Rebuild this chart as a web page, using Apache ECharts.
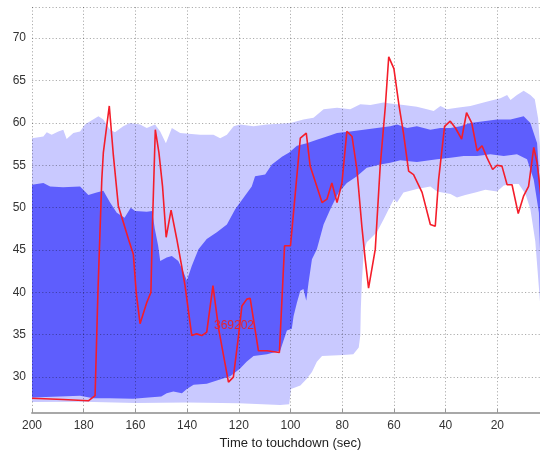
<!DOCTYPE html>
<html>
<head>
<meta charset="utf-8">
<script src="https://cdn.jsdelivr.net/npm/echarts@6/dist/echarts.min.js"></script>
<style>
  html, body { margin: 0; padding: 0; background: #ffffff; }
  #chart { width: 540px; height: 450px; }
</style>
</head>
<body>
<div id="chart"></div>
<script>
// Outer (light) envelope, upper edge: [time to touchdown, value]
const outerUpper = [
  [200, 58.2], [195.6, 58.4], [194.3, 58.9], [192.4, 58.6], [189.8, 59.0], [187.9, 59.2],
  [186.6, 58.1], [184.0, 58.8], [181.4, 59.0], [179.5, 59.8], [177.5, 60.2], [174.3, 60.8],
  [172.4, 60.4], [169.8, 59.2], [167.9, 58.9], [164.7, 59.6], [162.1, 60.0], [158.2, 59.8],
  [155.6, 59.4], [152.4, 59.8], [150.4, 59.0], [148.2, 57.6], [145.9, 59.4], [142.7, 58.8],
  [135.0, 58.6], [129.8, 58.6], [127.2, 58.2], [124.6, 58.6], [122.0, 59.6], [119.5, 59.8],
  [114.3, 59.6], [109.1, 59.8], [104.0, 59.9], [100.0, 60.0], [95.0, 60.4], [91.1, 60.6],
  [87.2, 61.6], [82.0, 61.8], [76.9, 61.6], [73.0, 62.2], [69.1, 62.1], [64.0, 62.4],
  [61.4, 62.3], [56.3, 62.1], [51.1, 61.9], [47.2, 61.6], [44.6, 61.4], [42.0, 62.0],
  [39.5, 61.6], [35.6, 61.8], [30.4, 62.0], [25.3, 62.4], [22.7, 62.6], [18.8, 62.9],
  [16.2, 63.3], [14.9, 62.7], [12.4, 63.3], [9.8, 63.8], [7.2, 63.3], [5.5, 62.8],
  [4.2, 60.5], [3.0, 55.0]
];

// Outer (light) envelope, lower edge
const outerLower = [
  [200, 27.05], [180, 27.1], [160, 26.95], [140, 27.0], [120, 26.9], [104, 26.7],
  [100.5, 26.8], [99.8, 28.6], [96.2, 29.0], [93.7, 29.8], [91.7, 30.6], [89.8, 31.8],
  [87.8, 32.5], [79.5, 32.6], [75.7, 32.7], [73.6, 33.5], [73.0, 34.9], [72.8, 38.0],
  [72.4, 41.2], [71.7, 44.7], [70.5, 45.9], [66.6, 47.1], [64.0, 48.6], [61.4, 50.2],
  [60.0, 51.0], [58.8, 50.6], [56.3, 51.8], [51.1, 52.2], [45.9, 52.5], [43.3, 51.9],
  [38.1, 51.6], [35.6, 51.2], [32.4, 51.5], [28.5, 51.8], [24.6, 52.1], [20.1, 51.9],
  [17.5, 52.6], [14.3, 52.8], [11.7, 52.8], [9.1, 51.6], [7.2, 49.8], [5.3, 46.0],
  [3.0, 37.0]
];

// Inner (dark) envelope, upper edge
const innerUpper = [
  [200, 52.7], [195.6, 52.9], [193.0, 52.5], [188.0, 52.4], [181.4, 52.5], [178.2, 51.5],
  [175.0, 51.8], [172.4, 52.0], [169.8, 50.6], [167.2, 49.4], [164.2, 48.8], [161.8, 50.0],
  [160.1, 49.6], [155.6, 49.5], [153.5, 49.6], [152.5, 47.5], [151.2, 45.5], [150.4, 43.7],
  [147.9, 44.1], [145.9, 44.3], [143.4, 43.7], [141.4, 42.4], [140.1, 41.4], [138.2, 43.1],
  [135.6, 45.1], [132.4, 46.3], [128.5, 47.1], [124.6, 48.0], [121.4, 49.8], [118.1, 51.2],
  [115.0, 52.5], [113.7, 53.7], [109.8, 53.9], [107.2, 55.1], [103.3, 56.0], [100.5, 56.5],
  [97.5, 57.3], [93.7, 57.6], [89.8, 58.0], [85.9, 58.4], [82.0, 58.8], [76.9, 59.0],
  [71.7, 59.2], [66.6, 59.4], [61.4, 59.6], [58.8, 59.8], [54.9, 59.4], [51.1, 59.6],
  [45.9, 59.2], [42.0, 59.4], [38.1, 59.4], [34.3, 59.6], [30.4, 60.0], [25.3, 60.2],
  [20.1, 60.4], [14.9, 60.4], [9.8, 60.8], [7.2, 60.0], [4.6, 57.6], [3.0, 50.0]
];

// Inner (dark) envelope, lower edge
const innerLower = [
  [200, 27.6], [181.4, 27.8], [176.3, 27.5], [170.0, 27.5], [160.8, 27.45], [155.0, 27.6],
  [150.0, 27.7], [147.9, 28.1], [145.3, 28.3], [142.0, 28.1], [140.1, 28.6], [137.5, 29.1],
  [132.4, 29.2], [128.5, 29.6], [123.3, 30.1], [119.5, 31.0], [117.0, 31.8], [114.3, 32.5],
  [109.1, 32.7], [104.0, 33.1], [101.4, 35.5], [99.5, 35.7], [98.8, 37.2], [97.5, 38.8],
  [96.2, 40.2], [95.0, 40.4], [93.9, 39.0], [93.0, 41.2], [91.7, 43.9], [89.8, 45.1],
  [87.2, 48.0], [84.6, 49.8], [81.4, 51.8], [78.2, 52.9], [74.3, 53.7], [70.5, 54.7],
  [65.3, 55.1], [61.4, 55.3], [57.5, 55.6], [54.9, 55.5], [51.1, 55.4], [43.3, 55.7],
  [38.1, 55.9], [33.0, 56.1], [27.8, 56.1], [22.7, 56.3], [17.5, 56.1], [12.4, 56.3],
  [8.5, 55.7], [5.9, 53.3], [3.9, 49.4], [3.0, 40.0]
];

// Flight 369202 trace
const flightTrace = [
  [200, 27.5], [188.0, 27.35], [178.2, 27.2], [175.6, 27.8], [174.5, 40.0], [173.0, 53.3],
  [172.4, 56.5], [170.1, 62.0], [168.5, 56.1], [166.6, 50.2], [164.7, 48.3], [162.7, 46.3],
  [160.8, 44.5], [159.7, 40.0], [158.2, 36.3], [155.6, 38.8], [154.0, 40.0], [153.4, 48.0],
  [152.3, 59.2], [150.9, 56.5], [149.5, 52.5], [148.1, 46.5], [146.2, 49.7], [144.0, 46.3],
  [142.1, 43.1], [140.8, 40.8], [138.2, 34.9], [136.3, 35.1], [134.3, 34.9], [132.4, 35.3],
  [130.0, 40.8], [127.8, 35.7], [124.0, 29.4], [122.1, 30.0], [120.1, 34.9], [118.8, 38.4],
  [116.9, 39.2], [115.6, 39.3], [112.4, 33.1], [109.1, 33.1], [104.3, 32.9], [102.3, 45.5],
  [100.0, 45.5], [96.2, 58.2], [93.9, 58.8], [92.4, 54.9], [89.8, 52.5], [87.8, 50.6],
  [85.9, 51.0], [84.0, 52.9], [82.0, 50.6], [80.1, 52.9], [78.2, 59.0], [76.2, 58.4],
  [74.3, 54.5], [72.4, 47.8], [71.1, 43.9], [69.8, 40.5], [67.2, 45.1], [65.3, 54.9],
  [63.3, 62.0], [62.0, 67.8], [60.0, 66.4], [58.0, 62.0], [56.3, 58.8], [54.3, 54.3],
  [52.4, 53.9], [49.1, 51.8], [45.9, 48.0], [44.0, 47.8], [42.7, 53.3], [40.4, 59.6],
  [38.2, 60.2], [36.2, 59.4], [33.8, 58.1], [31.9, 61.2], [29.9, 60.0], [27.8, 56.7],
  [25.9, 57.3], [24.0, 55.9], [21.8, 54.5], [20.1, 55.0], [18.2, 54.9], [16.2, 52.7],
  [14.3, 52.7], [11.9, 49.3], [9.8, 51.4], [7.9, 52.5], [5.9, 57.1], [4.6, 55.3],
  [3.0, 51.0]
];

const flightId = '369202';
const flightIdAnchor = [129.6, 36.1];

const xRange = [0, 200];
const yRange = [25.76, 73.68];

const FONT = '"Liberation Sans", Arial, Helvetica, sans-serif';
const LIGHT = '#c9c9ff';
const DARK = '#5e5efd';
const RED = '#f41d2a';
const GRID_DOTS = 'rgba(0,0,0,0.32)';

// Filled band between an upper and a lower edge, drawn as one polygon
function band(name, upper, lower, color, z) {
  return {
    name: name,
    type: 'custom',
    coordinateSystem: 'cartesian2d',
    silent: true,
    clip: true,
    z: z,
    data: upper,
    renderItem: function (params, api) {
      if (params.dataIndex !== 0) return null;
      const ring = upper.concat(lower.slice().reverse());
      return {
        type: 'polygon',
        shape: { points: ring.map(function (p) { return api.coord(p); }) },
        style: { fill: color, stroke: null }
      };
    }
  };
}

const chart = echarts.init(document.getElementById('chart'), null, { renderer: 'canvas' });

chart.setOption({
  animation: false,
  backgroundColor: '#ffffff',
  grid: {
    left: 32, right: -9, top: 7, bottom: 37,
    containLabel: false,
    outerBoundsMode: 'none'
  },
  xAxis: {
    type: 'value',
    inverse: true,
    min: xRange[0],
    max: xRange[1],
    interval: 20,
    z: 5,
    name: 'Time to touchdown (sec)',
    nameLocation: 'middle',
    nameGap: 20,
    nameTextStyle: { color: '#222', fontSize: 13, fontFamily: FONT },
    axisLine: { show: true, lineStyle: { color: '#a8a8a8', width: 2 } },
    axisTick: { show: true, inside: true, length: 4, lineStyle: { color: '#999' } },
    axisLabel: { color: '#333', fontSize: 12, fontFamily: FONT, margin: 7 },
    splitLine: { show: true, lineStyle: { color: GRID_DOTS, width: 1, type: [1.2, 2.2] } }
  },
  yAxis: {
    type: 'value',
    min: yRange[0],
    max: yRange[1],
    splitNumber: 10,
    minInterval: 5,
    maxInterval: 5,
    z: 5,
    axisLine: { show: true, lineStyle: { color: '#a8a8a8', width: 2 } },
    axisTick: { show: true, inside: true, length: 4, lineStyle: { color: '#999' } },
    axisLabel: {
      color: '#333', fontSize: 12, fontFamily: FONT, margin: 6,
      showMinLabel: false, showMaxLabel: false
    },
    splitLine: { show: true, lineStyle: { color: GRID_DOTS, width: 1, type: [1.2, 2.2] } }
  },
  series: [
    band('outer', outerUpper, outerLower, LIGHT, 1),
    band('inner', innerUpper, innerLower, DARK, 2),
    {
      name: flightId,
      type: 'line',
      data: flightTrace,
      z: 10,
      symbol: 'none',
      smooth: false,
      lineStyle: { color: RED, width: 1.6 },
      markPoint: {
        silent: true,
        symbol: 'circle',
        symbolSize: 0,
        data: [{ coord: flightIdAnchor, value: flightId }],
        label: {
          show: true,
          position: 'right',
          distance: 0,
          formatter: flightId,
          color: '#e8232d',
          fontSize: 12,
          fontFamily: FONT
        }
      }
    }
  ]
});
</script>
</body>
</html>
